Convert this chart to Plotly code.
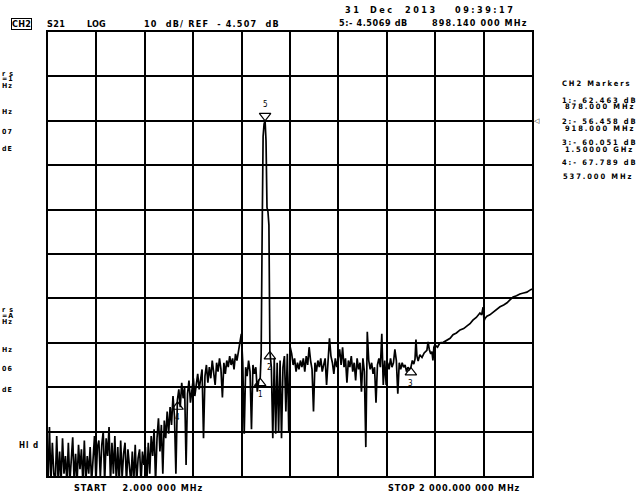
import plotly.graph_objects as go

# analyzer state: CH2, S21, log mag, 10 dB/div, 10 divisions
START_MHZ = 2.0
STOP_MHZ = 2000.0
REF_DB = -4.507
DB_PER_DIV = 10
REF_DIV = 8  # reference line is 8 divisions up from the bottom

# 2 .. 872 MHz, one reading every 6 MHz (noise floor, then rising)
low_step_mhz = 6
low_db = [
    -86, -73.5, -86, -77, -84, -86, -75.5, -86, -79, -86,
    -76, -84, -80, -86, -77, -86, -81, -75.8, -86, -79.5,
    -86, -77.5, -83, -78.5, -86, -76.5, -86, -80, -84, -78,
    -86, -79, -75.5, -86, -78, -76.5, -85, -77.5, -74.5, -86,
    -76, -80, -73.5, -86, -77, -84, -75.5, -86, -78, -86,
    -76.5, -85, -79.5, -77, -86, -78.5, -82, -86, -79, -86,
    -77.5, -86, -80.5, -78.5, -86, -79, -82, -78, -86, -77,
    -84, -75.5, -80, -74, -86, -76, -71.5, -79, -73, -84,
    -72, -76, -70, -75, -69, -73, -66.5, -71, -84, -67.5,
    -65, -69, -63.5, -67, -64.5, -82, -66, -63, -68, -64.5,
    -62.5, -66.5, -64, -61.5, -65, -63, -60.5, -76, -62, -59.5,
    -63.5, -60, -62.5, -58.5, -61.5, -64, -59, -61, -58, -60.5,
    -66.8, -59, -61.5, -58.5, -60, -57.5, -59.5, -58, -60.5, -57,
    -58.5, -56.5, -55, -52.5, -59, -75, -60, -62, -58.5, -61,
    -74, -59.5, -61.5, -60, -65.5, -63,
]

# the carrier around 898 MHz
peak_mhz = [878, 882, 886, 890, 894, 898.14, 902, 906, 910, 914, 918]
peak_db = [-62.463, -57, -30, -8, -5.2, -4.507, -9, -24, -25, -28, -56.458]

# 924 .. 1494 MHz, every 6 MHz
mid_start_mhz = 924
mid_step_mhz = 6
mid_db = [
    -60, -76, -58, -75, -59, -74.5, -58.5, -76, -60, -57.5,
    -70, -57, -74.5, -55.5, -57, -59.5, -58, -61, -59, -60.5,
    -58.5, -60, -58, -61, -57.5, -59.5, -55.5, -58.5, -60.5, -70,
    -59, -61, -58.5, -60, -58, -61, -59.5, -58, -64, -57,
    -53.5, -57.5, -59, -61.5, -58, -60, -57.5, -56, -59.5, -55.5,
    -60, -58, -63.5, -58.5, -60, -57.5, -61, -59, -63, -58,
    -60.5, -59, -65.5, -58, -61, -78, -52, -58.5, -60.5, -59,
    -61.5, -60, -68, -59.5, -58, -60, -52.5, -64, -58.5, -64,
    -59, -60.5, -58, -60, -59, -56, -58.5, -66, -59, -60.5,
    -59, -60, -59.5, -61, -60, -60.5,
]

# 1.5 .. 2 GHz, smooth part of the trace
upper_mhz = [1500, 1506, 1512, 1517, 1521, 1525, 1530, 1537, 1546, 1555,
             1566, 1571, 1576, 1582, 1587, 1591, 1595, 1599, 1610, 1620,
             1634, 1649, 1662, 1674, 1688, 1703, 1718, 1732, 1744, 1756,
             1770, 1785, 1792, 1798, 1802, 1806, 1814, 1826, 1839, 1854,
             1868, 1883, 1897, 1910, 1922, 1936, 1950, 1965, 1979, 1990,
             2000]
upper_db = [-60.05, -58.5, -59.3, -58.2, -53.8, -57.5, -58.6, -57.2, -57.8, -56.8,
            -56.2, -54.3, -56, -57, -56.5, -58.5, -55.5, -55, -55.5, -54.5,
            -54.4, -53.9, -53.5, -52.7, -52.3, -51.6, -51.3, -50.7, -50.2, -49.4,
            -48.8, -47.8, -48.2, -46.5, -49.6, -49, -48.5, -48.2, -47.6, -47,
            -46.4, -46, -45.5, -44.8, -44.2, -43.9, -43.5, -43.3, -43.1, -42.7,
            -42.4]

marker_ids = ['1', '2', '3', '4', '5']
marker_mhz = [878, 918, 1500, 537, 898.14]
marker_db = [-62.463, -56.458, -60.051, -67.789, -4.5069]

# marker readout on the right, and the cut-off CH1 panel on the left
right_panel = [
    ('CH2 Markers', 560, 83), ('1:- 62.463 dB', 560, 100), ('878.000 MHz', 563, 106.5),
    ('2:- 56.458 dB', 560, 121.5), ('918.000 MHz', 563, 128), ('3:- 60.051 dB', 560, 142.5),
    ('1.50000 GHz', 563, 149), ('4:- 67.789 dB', 560, 162), ('537.000 MHz', 561, 176.5),
]
left_panel = [
    ('r s', 0, 73.5), ('=1', 0, 79.5), ('Hz', 0, 86), ('Hz', 0, 112), ('07', 0, 131.5), ('dE', 0, 149),
    ('r s', 0, 309.5), ('=A', 0, 315.5), ('Hz', 0, 322), ('Hz', 0, 349.5), ('06', 0, 368.5), ('dE', 0, 390),
]

FONT = 'DejaVu Sans Condensed, DejaVu Sans, sans-serif'

# plot box in page pixels (638x491 page)
L, T, W, H = 48, 32, 484, 444


def paper(x, y):
    return (x - L) / W, 1 - (y - T) / H


low_mhz = [START_MHZ + low_step_mhz * i for i in range(len(low_db))]
mid_mhz = [mid_start_mhz + mid_step_mhz * i for i in range(len(mid_db))]
freq = low_mhz + peak_mhz + mid_mhz + upper_mhz
s21 = low_db + peak_db + mid_db + upper_db

y_bottom = REF_DB - REF_DIV * DB_PER_DIV
y_top = y_bottom + 10 * DB_PER_DIV

fig = go.Figure()

fig.add_trace(go.Scatter(
    x=freq, y=s21, mode='lines',
    line=dict(color='black', width=1.7),
    hoverinfo='skip', showlegend=False
))

# markers 1-4 sit under the trace pointing up, marker 5 sits on top of the peak
fig.add_trace(go.Scatter(
    x=marker_mhz[:4], y=marker_db[:4], mode='markers',
    marker=dict(symbol='triangle-up-open', angle=0, standoff=5, size=10,
                color='black', line=dict(color='black', width=1.2)),
    cliponaxis=False, hoverinfo='skip', showlegend=False
))
fig.add_trace(go.Scatter(
    x=marker_mhz[4:], y=marker_db[4:], mode='markers',
    marker=dict(symbol='triangle-up-open', angle=180, standoff=5, size=10,
                color='black', line=dict(color='black', width=1.2)),
    cliponaxis=False, hoverinfo='skip', showlegend=False
))

annotations = []
for mid, f, v in zip(marker_ids, marker_mhz, marker_db):
    shift = 16 if mid == '5' else -16
    annotations.append(dict(x=f, y=v, xref='x', yref='y', text=mid, showarrow=False,
                            yshift=shift, font=dict(family=FONT, size=8, color='black')))


def add_text(txt, x, y, size=9, ls=1.0, bold=True, **kw):
    px, py = paper(x, y)
    annotations.append(dict(x=px, y=py, xref='paper', yref='paper',
                            text='<span style="letter-spacing:%.1fpx">%s</span>' % (ls, txt),
                            showarrow=False, xanchor='left', yanchor='middle',
                            font=dict(family=FONT, size=size, color='black',
                                      weight='bold' if bold else 'normal'), **kw))


add_text('CH2', 11, 24, ls=0.3, bordercolor='black', borderwidth=1, borderpad=0)
add_text('S21', 45, 24, ls=0.4)
add_text('LOG', 85, 24, ls=0.2)
add_text('10\u00a0 dB/\u00a0REF\u00a0 -\u00a04.507\u00a0 dB', 142, 24, ls=1.2)
add_text('31', 343, 9.5, ls=2.5)
add_text('Dec', 368, 9.5, ls=2.5)
add_text('2013', 403, 9.5, ls=2.5)
add_text('09:39:17', 453, 9.5, ls=2.5)
add_text('5:-\u00a04.5069\u00a0dB', 337, 23.5, ls=0.6)
add_text('898.140 000 MHz', 430, 23.5, ls=1.1)
for txt, x, y in right_panel:
    add_text(txt, x, y, size=7.5, ls=1.9)
for txt, x, y in left_panel:
    add_text(txt, x, y, size=7, ls=1.0)
add_text('Hl d', 17, 445, size=8, ls=1.0)
add_text('START\u00a0\u00a0\u00a0\u00a02.000 000 MHz', 72, 488, ls=1.0)
add_text('STOP 2 000.000 000 MHz', 386, 488, ls=0.8)

# reference position indicator on the right edge
annotations.append(dict(x=1, y=REF_DB, xref='paper', yref='y', text='\u25c1', showarrow=False,
                        xanchor='left', yanchor='middle', font=dict(size=7, color='black')))

fig.update_layout(
    width=638, height=491,
    margin=dict(l=L, r=638 - L - W, t=T, b=491 - T - H),
    paper_bgcolor='white', plot_bgcolor='white',
    showlegend=False,
    annotations=annotations,
    xaxis=dict(range=[START_MHZ, STOP_MHZ], tick0=START_MHZ, dtick=(STOP_MHZ - START_MHZ) / 10,
               showgrid=True, gridcolor='black', gridwidth=1.6, zeroline=False,
               showticklabels=False, ticks='', showline=True, mirror=True,
               linecolor='black', linewidth=2),
    yaxis=dict(range=[y_bottom, y_top], tick0=REF_DB, dtick=DB_PER_DIV,
               showgrid=True, gridcolor='black', gridwidth=1.6, zeroline=False,
               showticklabels=False, ticks='', showline=True, mirror=True,
               linecolor='black', linewidth=2),
)

# the page body has a default 8px margin; drop it so the figure sits at 0,0
fig.write_html("out.html", config={'displayModeBar': False},
               post_script="document.body.style.margin='0';")
